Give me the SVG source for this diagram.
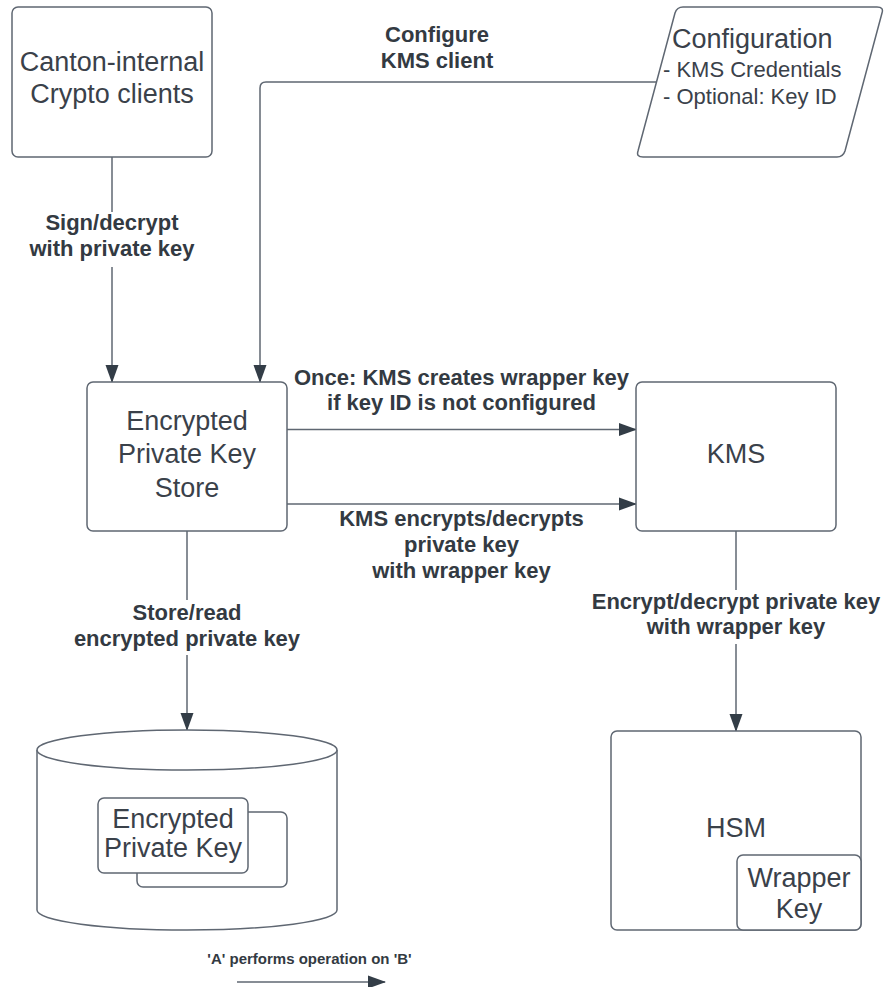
<svg xmlns="http://www.w3.org/2000/svg" width="884" height="987" viewBox="0 0 884 987">
<style>
.box{fill:#fff;stroke:#5f6772;stroke-width:1.5}
.ln{fill:none;stroke:#5f6772;stroke-width:1.5}
.t{font-family:"Liberation Sans",Arial,sans-serif;font-size:27px;fill:#3a414a;text-anchor:middle}
.s{font-family:"Liberation Sans",Arial,sans-serif;font-size:22px;fill:#3a414a}
.lb{font-family:"Liberation Sans",Arial,sans-serif;font-size:22px;font-weight:bold;fill:#333a42;text-anchor:middle}
.bg{fill:#fff}
</style>
<defs>
<marker id="arr" markerWidth="18" markerHeight="14" refX="17" refY="7" orient="auto" markerUnits="userSpaceOnUse">
<path d="M0,0.5 L18,7 L0,13.5 z" fill="#333d47"/>
</marker>
</defs>
<rect width="884" height="987" fill="#fff"/>

<g id="connectors">
<path class="ln" d="M112,157 L112,382" marker-end="url(#arr)"/>
<path class="ln" d="M657,82 L266,82 Q260,82 260,88 L260,382" marker-end="url(#arr)"/>
<path class="ln" d="M287,429.5 L636,429.5" marker-end="url(#arr)"/>
<path class="ln" d="M287,504 L636,504" marker-end="url(#arr)"/>
<path class="ln" d="M187,531 L187,730" marker-end="url(#arr)"/>
<path class="ln" d="M736,531 L736,731" marker-end="url(#arr)"/>
<g id="labels">
<rect class="bg" x="40" y="212" width="145" height="55"/>
<text class="lb" x="112" y="230">Sign/decrypt</text>
<text class="lb" x="112" y="256">with private key</text>
<text class="lb" x="437" y="42">Configure</text>
<text class="lb" x="437" y="68">KMS client</text>
<text class="lb" x="461.5" y="384.5">Once: KMS creates wrapper key</text>
<text class="lb" x="461.5" y="410">if key ID is not configured</text>
<text class="lb" x="461.5" y="526">KMS encrypts/decrypts</text>
<text class="lb" x="461.5" y="552">private key</text>
<text class="lb" x="461.5" y="578">with wrapper key</text>
<rect class="bg" x="70" y="600" width="234" height="55"/>
<text class="lb" x="187" y="620">Store/read</text>
<text class="lb" x="187" y="646">encrypted private key</text>
<rect class="bg" x="588" y="590" width="296" height="54"/>
<text class="lb" x="736" y="609">Encrypt/decrypt private key</text>
<text class="lb" x="736" y="634">with wrapper key</text>
</g>
</g>

<g id="canton-clients">
<rect class="box" x="12" y="7" width="200" height="150" rx="6"/>
<text class="t" x="112" y="71">Canton-internal</text>
<text class="t" x="112" y="103">Crypto clients</text>
</g>

<g id="configuration">
<path class="box" d="M683,7 L877,7 Q884,7 882,13 L845,151 Q843,157 837,157 L643,157 Q636,157 638,151 L675,13 Q677,7 683,7 z"/>
<text class="t" x="672" y="48" style="text-anchor:start">Configuration</text>
<text class="s" x="663" y="77">- KMS Credentials</text>
<text class="s" x="663" y="104">- Optional: Key ID</text>
</g>

<g id="key-store">
<rect class="box" x="87" y="382" width="200" height="149" rx="6"/>
<text class="t" x="187" y="430">Encrypted</text>
<text class="t" x="187" y="463">Private Key</text>
<text class="t" x="187" y="496.5">Store</text>
</g>

<g id="kms">
<rect class="box" x="636" y="382" width="200" height="149" rx="6"/>
<text class="t" x="736" y="462.5">KMS</text>
</g>

<g id="database">
<path class="box" d="M37,750 L37,910 A150,20 0 0 0 337,910 L337,750"/>
<ellipse class="box" cx="187" cy="750" rx="150" ry="20"/>
<rect class="box" x="137" y="812" width="150" height="75" rx="6"/>
<rect class="box" x="98" y="798" width="150" height="75" rx="6"/>
<text class="t" x="173" y="828">Encrypted</text>
<text class="t" x="173" y="857">Private Key</text>
</g>

<g id="hsm">
<rect class="box" x="611" y="731" width="250" height="199" rx="6"/>
<text class="t" x="736" y="836.5">HSM</text>
<rect class="box" x="737" y="855" width="124" height="75" rx="6"/>
<text class="t" x="799" y="887">Wrapper</text>
<text class="t" x="799" y="918">Key</text>
</g>

<g id="legend">
<text class="lb" x="309.5" y="964" style="font-size:15px">'A' performs operation on 'B'</text>
<path class="ln" d="M237,982 L385,982" marker-end="url(#arr)"/>
</g>
</svg>
